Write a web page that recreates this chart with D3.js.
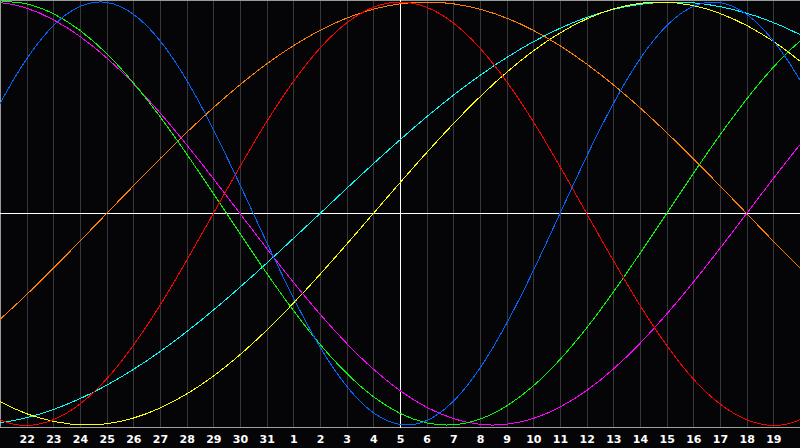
<!DOCTYPE html>
<html>
<head>
<meta charset="utf-8">
<script src="https://cdn.jsdelivr.net/npm/d3@7"></script>
<style>
  html, body { margin: 0; padding: 0; background: #050508; overflow: hidden; }
  svg { display: block; }
  .axis text { fill: #ffffff; font: bold 11px "DejaVu Sans", sans-serif; }
</style>
</head>
<body>
<div id="chart"></div>
<script>
// day labels under the grid lines (today = 5, in the middle)
var dayLabels = ['22', '23', '24', '25', '26', '27', '28', '29', '30', '31',
    '1', '2', '3', '4', '5', '6', '7', '8', '9', '10',
    '11', '12', '13', '14', '15', '16', '17', '18', '19'];

// sample days, counted from today (0)
var sampleDays = [-17, -15, -13, -11, -9, -7, -5, -3, -1, 1, 3, 5, 7, 9, 11, 13, 15, 17];

// cycle values at the sample days (-1 .. 1)
var physical = [0, 0.520, 0.888, 0.998, 0.817, 0.398, -0.136, -0.631, -0.942, -0.979, -0.731, -0.270, 0.270, 0.731, 0.979, 0.942, 0.631, 0.136];
var emotional = [-0.782, -0.975, -0.975, -0.782, -0.434, 0, 0.434, 0.782, 0.975, 0.975, 0.782, 0.434, 0, -0.434, -0.782, -0.975, -0.975, -0.782];
var intellectual = [0.910, 0.999, 0.945, 0.756, 0.458, 0.095, -0.282, -0.618, -0.866, -0.990, -0.972, -0.815, -0.541, -0.189, 0.189, 0.541, 0.815, 0.972];
var intuitive = [0.969, 0.997, 0.916, 0.736, 0.476, 0.165, -0.165, -0.476, -0.736, -0.916, -0.997, -0.969, -0.837, -0.614, -0.325, 0, 0.325, 0.614];
var aesthetic = [-0.720, -0.889, -0.983, -0.994, -0.920, -0.769, -0.552, -0.288, 0, 0.288, 0.552, 0.769, 0.920, 0.994, 0.983, 0.889, 0.720, 0.489];
var awareness = [-0.707, -0.5, -0.259, 0, 0.259, 0.5, 0.707, 0.866, 0.966, 1, 0.966, 0.866, 0.707, 0.5, 0.259, 0, -0.259, -0.5];
var spiritual = [-0.996, -0.989, -0.927, -0.812, -0.653, -0.457, -0.235, 0, 0.235, 0.457, 0.653, 0.812, 0.927, 0.989, 0.996, 0.947, 0.846, 0.697];

(function(d3) {
    'use strict';

    var width = 800;
    var height = 448;
    var plotBottom = 427.5;

    var series = [
        {values: spiritual, color: '#00ffff'},
        {values: aesthetic, color: '#ffff00'},
        {values: awareness, color: '#ff8000'},
        {values: intuitive, color: '#ff00ff'},
        {values: intellectual, color: '#00ff00'},
        {values: emotional, color: '#ff0000'},
        {values: physical, color: '#0066ff'}
    ];

    var x = d3.scaleLinear().domain([-15, 15]).range([0, width]);
    var y = d3.scaleLinear().domain([-1, 1]).range([425, 2]);

    var svg = d3.select('#chart').append('svg')
        .attr('width', width)
        .attr('height', height);

    svg.append('rect')
        .attr('width', width)
        .attr('height', height)
        .attr('fill', '#050508');

    svg.append('clipPath').attr('id', 'plot')
        .append('rect')
        .attr('x', 0).attr('y', 0)
        .attr('width', width).attr('height', plotBottom);

    // vertical day grid
    var ticks = d3.range(-14, 15);
    svg.append('g')
        .selectAll('line')
        .data(ticks)
        .join('line')
        .attr('x1', function(d) { return Math.round(x(d)) + 0.5; })
        .attr('x2', function(d) { return Math.round(x(d)) + 0.5; })
        .attr('y1', 0)
        .attr('y2', plotBottom)
        .attr('stroke', '#38383c')
        .attr('shape-rendering', 'crispEdges');

    // frame: top, left, bottom
    svg.append('path')
        .attr('d', 'M0.5,' + plotBottom + 'V0.5H' + width)
        .attr('fill', 'none')
        .attr('stroke', '#9a9a9a')
        .attr('shape-rendering', 'crispEdges');
    svg.append('line')
        .attr('x1', 0).attr('x2', width)
        .attr('y1', plotBottom).attr('y2', plotBottom)
        .attr('stroke', '#a0a0a0')
        .attr('shape-rendering', 'crispEdges');

    // today + zero lines
    svg.append('line')
        .attr('x1', Math.round(x(0)) + 0.5).attr('x2', Math.round(x(0)) + 0.5)
        .attr('y1', 0).attr('y2', plotBottom)
        .attr('stroke', '#ffffff')
        .attr('shape-rendering', 'crispEdges');
    svg.append('line')
        .attr('x1', 0).attr('x2', width)
        .attr('y1', Math.floor(y(0)) + 0.5).attr('y2', Math.floor(y(0)) + 0.5)
        .attr('stroke', '#ffffff')
        .attr('shape-rendering', 'crispEdges');

    var line = d3.line()
        .x(function(d, i) { return x(sampleDays[i]); })
        .y(function(d) { return y(d); })
        .curve(d3.curveNatural);

    svg.append('g')
        .attr('clip-path', 'url(#plot)')
        .selectAll('path')
        .data(series)
        .join('path')
        .attr('d', function(s) { return line(s.values); })
        .attr('fill', 'none')
        .attr('stroke', function(s) { return s.color; })
        .attr('stroke-width', 1)
        .attr('shape-rendering', 'crispEdges');

    var axis = d3.axisBottom(x)
        .tickValues(ticks)
        .tickSize(0)
        .tickPadding(0)
        .tickFormat(function(d, i) { return dayLabels[i]; });

    svg.append('g')
        .attr('class', 'axis')
        .attr('transform', 'translate(0,' + 435 + ')')
        .call(axis)
        .call(function(g) { g.select('.domain').remove(); });
})(d3);
</script>
</body>
</html>
